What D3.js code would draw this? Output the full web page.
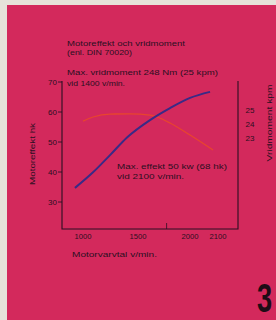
<!DOCTYPE html>
<html>
<head>
<meta charset="utf-8">
<script src="https://cdn.jsdelivr.net/npm/d3@7"></script>
<style>
  body { margin: 0; background: #e6e2da; }
  svg { display: block; }
  text { font-family: "Liberation Sans", Arial, sans-serif; fill: #2b0f22; }
</style>
</head>
<body>
<div id="app"></div>
<script>
// power curve (hk) against engine speed (v/min)
const powerRpm = [927, 1091, 1250, 1400, 1609, 1791, 1973, 2155];
const powerHk  = [34.7, 39.9, 45.8, 51.5, 57.3, 61.3, 64.7, 66.7];

// torque curve (kpm)
const torqueRpm = [1000, 1091, 1245, 1427, 1609, 1673, 1791, 1973, 2182];
const torqueKpm = [24.2, 24.5, 24.71, 24.72, 24.64, 24.5, 24.07, 23.21, 22.14];

const xTicks = [1000, 1500, 2000, 2100];
const yLeftTicks = [30, 40, 50, 60, 70];
const yRightTicks = [23, 24, 25];

const W = 276, H = 320;

const svg = d3.select("#app")
  .append("svg")
  .attr("width", W)
  .attr("height", H);

// pink card
svg.append("rect")
  .attr("x", 7).attr("y", 5)
  .attr("width", W - 7).attr("height", H - 5)
  .attr("fill", "#d3295c");

// scales
const x = d3.scaleLinear().domain([809, 2409]).range([62, 238]);
const yL = d3.scaleLinear().domain([30, 70]).range([202, 82]);
const yR = d3.scaleLinear().domain([23, 25]).range([138, 110]);

const axisColor = "#2b0f22";

// frame: left, bottom, right
svg.append("path")
  .attr("d", `M${x(809)},${yL(70.3)} V229 H${x(2409)} V81`)
  .attr("fill", "none")
  .attr("stroke", axisColor)
  .attr("stroke-width", 1.1);

// small inner tick on bottom axis
svg.append("line")
  .attr("x1", x(1760)).attr("x2", x(1760))
  .attr("y1", 229).attr("y2", 223)
  .attr("stroke", axisColor).attr("stroke-width", 0.8);

// left ticks
const gl = svg.append("g");
yLeftTicks.forEach(v => {
  gl.append("line")
    .attr("x1", 58).attr("x2", 62)
    .attr("y1", yL(v)).attr("y2", yL(v))
    .attr("stroke", axisColor).attr("stroke-width", 0.9);
  gl.append("text")
    .attr("x", 57).attr("y", yL(v) + 3)
    .attr("text-anchor", "end")
    .attr("font-size", 8)
    .text(v);
});

// right labels
yRightTicks.forEach(v => {
  svg.append("text")
    .attr("x", 250).attr("y", yR(v) + 3)
    .attr("text-anchor", "middle")
    .attr("font-size", 8)
    .text(v);
});

// bottom labels (2000 / 2100 set side by side as in the print)
const nudge = {1000: 0, 1500: 0, 2000: -3, 2100: 14};
xTicks.forEach(v => {
  svg.append("text")
    .attr("x", x(v) + nudge[v]).attr("y", 239)
    .attr("text-anchor", "middle")
    .attr("font-size", 8)
    .attr("textLength", 17)
    .attr("lengthAdjust", "spacingAndGlyphs")
    .text(v);
});

// curves
const line = d3.line().curve(d3.curveMonotoneX);

svg.append("path")
  .attr("d", line(torqueRpm.map((r, i) => [x(r), yR(torqueKpm[i])])))
  .attr("fill", "none")
  .attr("stroke", "#e8452e")
  .attr("stroke-width", 1.3);

svg.append("path")
  .attr("d", line(powerRpm.map((r, i) => [x(r), yL(powerHk[i])])))
  .attr("fill", "none")
  .attr("stroke", "#3a2a86")
  .attr("stroke-width", 2);

// annotations
const note = (tx, ty, s, len) => svg.append("text")
  .attr("x", tx).attr("y", ty)
  .attr("font-size", 8)
  .attr("textLength", len)
  .attr("lengthAdjust", "spacingAndGlyphs")
  .text(s);

note(67, 46, "Motoreffekt och vridmoment", 118);
note(67, 55, "(enl. DIN 70020)", 65);
note(67, 75, "Max. vridmoment 248 Nm (25 kpm)", 151);
note(67, 86, "vid 1400 v/min.", 58);
note(117, 169, "Max. effekt 50 kw (68 hk)", 110);
note(117, 179, "vid 2100 v/min.", 67);
note(72, 257, "Motorvarvtal v/min.", 85);

// axis titles
svg.append("text")
  .attr("transform", "translate(35,154) rotate(-90)")
  .attr("text-anchor", "middle")
  .attr("font-size", 8)
  .attr("textLength", 62)
  .attr("lengthAdjust", "spacingAndGlyphs")
  .text("Motoreffekt hk");

svg.append("text")
  .attr("transform", "translate(272,123) rotate(-90)")
  .attr("text-anchor", "middle")
  .attr("font-size", 8)
  .attr("textLength", 77)
  .attr("lengthAdjust", "spacingAndGlyphs")
  .text("Vridmoment kpm");

// page number, narrow bold
svg.append("text")
  .attr("transform", "translate(272,312) scale(0.68,1)")
  .attr("text-anchor", "end")
  .attr("font-weight", "bold")
  .attr("font-size", 40)
  .style("fill", "#1e0c16")
  .text("3");
</script>
</body>
</html>
